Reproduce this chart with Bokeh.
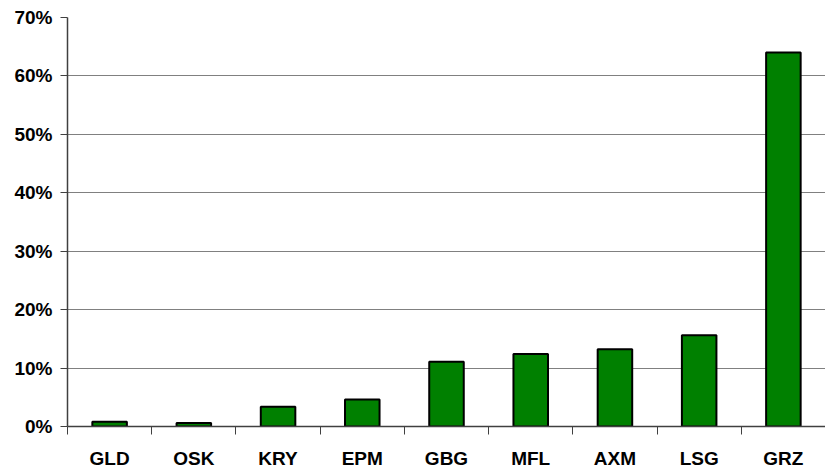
from bokeh.plotting import figure
from bokeh.models import Range1d, LinearAxis, FixedTicker, ColumnDataSource
from bokeh.embed import file_html
from bokeh.resources import INLINE

categories = ["GLD", "OSK", "KRY", "EPM", "GBG", "MFL", "AXM", "LSG", "GRZ"]
values = [0.8, 0.6, 3.4, 4.6, 11.1, 12.4, 13.2, 15.6, 64.0]
y_ticks = [0, 10, 20, 30, 40, 50, 60, 70]

FONT = "Liberation Sans"
n = len(categories)
xs = [i + 0.5 for i in range(n)]
src = ColumnDataSource(dict(x=xs, top=values, cat=categories))

p = figure(width=825, height=471,
           x_range=Range1d(0, n), y_range=Range1d(0, 70),
           output_backend="svg", toolbar_location=None,
           x_axis_location=None, y_axis_location=None,
           min_border_left=67, min_border_top=17, min_border_right=0, min_border_bottom=0)
p.outline_line_color = None
p.background_fill_color = "white"
p.border_fill_color = "white"

p.vbar(x="x", top="top", width=0.41, bottom=0, source=src,
       fill_color="#008000", line_color="#000000", line_width=2)

# y axis
yax = LinearAxis(ticker=FixedTicker(ticks=y_ticks))
yax.major_label_overrides = {t: f"{t}%" for t in y_ticks}
yax.major_label_text_font = FONT
yax.major_label_text_font_style = "bold"
yax.major_label_text_font_size = "19px"
yax.major_label_text_color = "#000000"
yax.major_tick_out = 7
yax.major_tick_in = 0
yax.minor_tick_line_color = None
yax.axis_line_color = "#404040"
yax.major_tick_line_color = "#404040"
yax.axis_line_width = 1.5
yax.major_label_standoff = 8
p.add_layout(yax, "left")

# x axis: labels at category centres, tick marks at category boundaries
xax = LinearAxis(ticker=FixedTicker(ticks=xs, minor_ticks=list(range(n + 1))))
xax.major_label_overrides = {x: c for x, c in zip(xs, categories)}
xax.major_label_text_font = FONT
xax.major_label_text_font_style = "bold"
xax.major_label_text_font_size = "19px"
xax.major_label_text_color = "#000000"
xax.major_tick_line_color = None
xax.major_tick_out = 8
xax.major_tick_in = 0
xax.minor_tick_out = 8
xax.minor_tick_in = 0
xax.minor_tick_line_color = "#404040"
xax.axis_line_color = "#404040"
xax.axis_line_width = 1.5
xax.major_label_standoff = 13
p.add_layout(xax, "below")

p.xgrid.visible = False
p.ygrid.ticker = FixedTicker(ticks=y_ticks)
p.ygrid.grid_line_color = "#808080"
p.ygrid.grid_line_width = 1

open("out.html", "w").write(file_html(p, INLINE))
